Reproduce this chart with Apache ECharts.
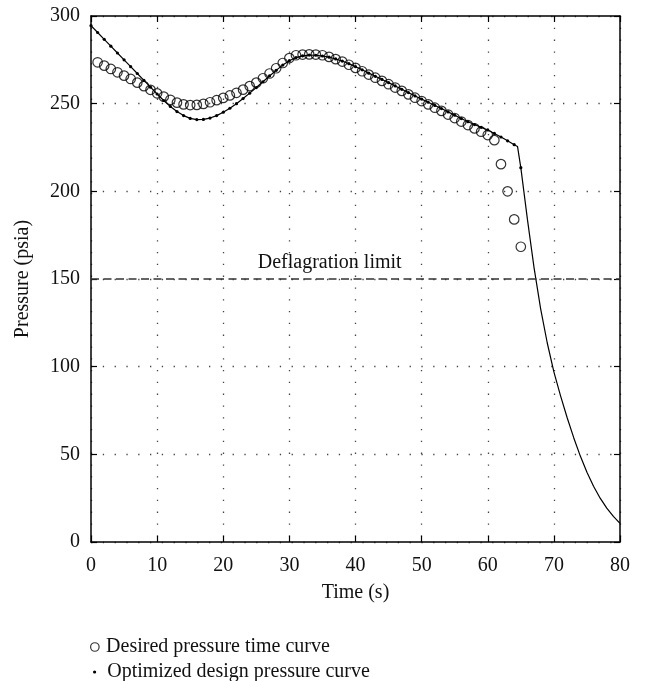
<!DOCTYPE html>
<html>
<head>
<meta charset="utf-8">
<script src="https://cdn.jsdelivr.net/npm/echarts@6/dist/echarts.min.js"></script>
<style>
html,body{margin:0;padding:0;background:#fff;}
#chart{width:646px;height:681px;}
</style>
</head>
<body>
<div id="chart"></div>
<script>
// Desired pressure time curve (circles)
const desiredTime = [1,2,3,4,5,6,7,8,9,10,11,12,13,14,15,16,17,18,19,20,21,22,23,24,25,26,27,28,29,30,31,32,33,34,35,36,37,38,39,40,41,42,43,44,45,46,47,48,49,50,51,52,53,54,55,56,57,58,59,60,61,62,63,64,65];
const desiredPressure = [273.6,271.7,269.8,267.9,266,264.1,262,260,257.9,255.9,254,252.2,250.6,249.6,249.2,249.3,249.9,250.8,252,253.3,254.7,256.2,258,260,262,264.5,267.2,270.2,273.2,276,277.6,278,278.1,278,277.6,276.7,275.4,274,272.2,270.4,268.5,266.6,264.8,263,261.1,259.2,257.3,255.3,253.4,251.5,249.6,247.7,245.9,243.8,241.8,239.8,237.8,235.9,234,232.1,229.2,215.5,200,184,168.4];

// Optimized design pressure curve (line, dots at whole seconds up to 65 s)
const optTime = [0,1,2,3,4,5,6,7,8,9,10,11,12,13,14,15,16,17,18,19,20,21,22,23,24,25,26,27,28,29,30,31,32,33,34,35,36,37,38,39,40,41,42,43,44,45,46,47,48,49,50,51,52,53,54,55,56,57,58,59,60,61,62,63,64,64.5,65,66,67,68,69,70,71,72,73,74,75,76,77,78,79,80];
const optPressure = [294.5,290.6,286.7,282.8,278.9,275,271.1,267.2,263.3,259.4,255.5,251.8,248.4,245.5,243.2,241.6,240.9,241,241.8,243.2,245.1,247.4,250,252.9,256,259.2,262.5,265.8,269,272,274.5,276.3,277.3,277.7,277.6,277.2,276.5,275.5,274.3,272.8,271.1,269.3,267.4,265.6,263.8,262,260.1,258.2,256.3,254.4,252.6,250.8,249,247.2,245.3,243.4,241.5,239.7,238.1,236.5,235,233,231,228.8,226.6,225.6,213.5,184,156.5,133,113.5,97,83.5,71,59.5,49,39.8,31.8,25,19.3,14.6,10.6];
const optDotted = [true,true,true,true,true,true,true,true,true,true,true,true,true,true,true,true,true,true,true,true,true,true,true,true,true,true,true,true,true,true,true,true,true,true,true,true,true,true,true,true,true,true,true,true,true,true,true,true,true,true,true,true,true,true,true,true,true,true,true,true,true,true,true,true,true,false,true,false,false,false,false,false,false,false,false,false,false,false,false,false,false,false];

const deflagrationLimit = 150;
const limitLabel = 'Deflagration limit';

const FONT = 'Liberation Serif';
const FS = 20;
const chart = echarts.init(document.getElementById('chart'), null, {renderer:'canvas'});

const desiredData = desiredTime.map((t,i)=>[t, desiredPressure[i]]);
const optData = optTime.map((t,i)=>({value:[t, optPressure[i]], symbolSize: optDotted[i] ? 3.2 : 0}));

const gridLine = {show:true, lineStyle:{color:'#444', width:1.3, type:[1.3,10.5]}};

chart.setOption({
  animation:false,
  backgroundColor:'#fff',
  grid:{left:91, right:26, top:16, bottom:139, containLabel:false},
  xAxis:[{
    type:'value', min:0, max:80, interval:10, position:'bottom',
    name:'Time (s)', nameLocation:'middle', nameGap:41,
    nameTextStyle:{fontFamily:FONT, fontSize:FS, color:'#111'},
    axisLine:{show:true, onZero:false, lineStyle:{color:'#000', width:1.5}},
    axisTick:{show:true, inside:true, length:6, lineStyle:{color:'#000', width:1.2}},
    axisLabel:{fontFamily:FONT, fontSize:FS, color:'#111', margin:14},
    splitLine:gridLine
  },{
    type:'value', min:0, max:80, interval:10, position:'top',
    axisLine:{show:true, onZero:false, lineStyle:{color:'#000', width:1.5}},
    axisTick:{show:true, inside:true, length:6, lineStyle:{color:'#000', width:1.2}},
    axisLabel:{show:false}, splitLine:{show:false}
  }],
  yAxis:[{
    type:'value', min:0, max:300, interval:50, position:'left',
    name:'Pressure (psia)', nameLocation:'middle', nameGap:58,
    nameTextStyle:{fontFamily:FONT, fontSize:FS, color:'#111'},
    axisLine:{show:true, onZero:false, lineStyle:{color:'#000', width:1.5}},
    axisTick:{show:true, inside:true, length:6, lineStyle:{color:'#000', width:1.2}},
    axisLabel:{fontFamily:FONT, fontSize:FS, color:'#111', margin:11},
    splitLine:gridLine
  },{
    type:'value', min:0, max:300, interval:50, position:'right',
    axisLine:{show:true, onZero:false, lineStyle:{color:'#000', width:1.5}},
    axisTick:{show:true, inside:true, length:6, lineStyle:{color:'#000', width:1.2}},
    axisLabel:{show:false}, splitLine:{show:false}
  }],
  legend:[{
    orient:'vertical', left:90, top:637, itemWidth:8.5, itemHeight:8.5, padding:0,
    data:[{name:'Desired pressure time curve', icon:'circle', itemStyle:{color:'rgba(0,0,0,0)', borderColor:'#000', borderWidth:1.2}}],
    textStyle:{fontFamily:FONT, fontSize:FS, color:'#111', padding:[0,0,0,2]},
    selectedMode:false
  },{
    orient:'vertical', left:93, top:662, itemWidth:3.2, itemHeight:3.2, padding:0,
    data:[{name:'Optimized design pressure curve', icon:'circle', itemStyle:{color:'#000', borderWidth:0}}],
    textStyle:{fontFamily:FONT, fontSize:FS, color:'#111', padding:[0,0,0,6]},
    selectedMode:false
  }],
  series:[{
    name:'Optimized design pressure curve',
    type:'line', xAxisIndex:0, yAxisIndex:0,
    data:optData, symbol:'circle', showSymbol:true,
    lineStyle:{color:'#000', width:1.2},
    itemStyle:{color:'#000', borderWidth:0},
    z:3,
    markLine:{
      silent:true, symbol:['none','none'],
      lineStyle:{color:'#333', width:1.5, type:[8,4.5]},
      label:{show:false},
      data:[{yAxis:deflagrationLimit}]
    },
    markPoint:{
      silent:true, symbol:'circle', symbolSize:0,
      label:{show:true, position:'top', distance:6, formatter:limitLabel, fontFamily:FONT, fontSize:FS, color:'#111'},
      data:[{coord:[36.1, deflagrationLimit]}]
    }
  },{
    name:'Desired pressure time curve',
    type:'scatter', xAxisIndex:0, yAxisIndex:0,
    data:desiredData, symbol:'circle', symbolSize:9.5,
    itemStyle:{color:'rgba(0,0,0,0)', borderColor:'#000', borderWidth:1.2},
    z:4
  }]
});
</script>
</body>
</html>
